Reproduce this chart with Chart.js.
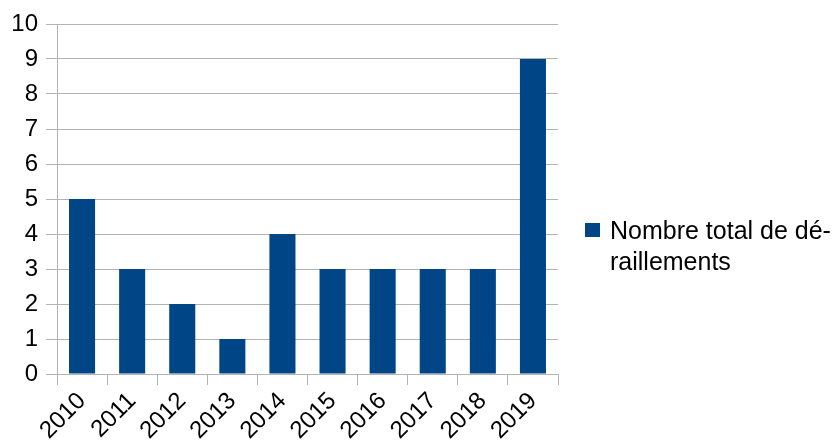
<!DOCTYPE html>
<html><head><meta charset="utf-8">
<script src="https://cdn.jsdelivr.net/npm/chart.js@4/dist/chart.umd.min.js"></script>
<style>html,body{margin:0;padding:0;background:#fff}#w{width:838px;height:448px}</style>
</head><body><div id="w"><canvas id="c"></canvas></div>
<script>
const categories = ['2010','2011','2012','2013','2014','2015','2016','2017','2018','2019'];
const seriesName = ['Nombre total de dé-', 'raillements'];
const values = [5, 3, 2, 1, 4, 3, 3, 3, 3, 9];
const yTicks = [0,1,2,3,4,5,6,7,8,9,10];

const FONT = 'Liberation Sans';
const GRID = '#b3b3b3';
const BAR = '#004586';

const legendPlugin = {
  id: 'customLegend',
  afterDraw(chart) {
    const ctx = chart.ctx;
    ctx.save();
    ctx.fillStyle = BAR;
    ctx.fillRect(585, 223, 15, 14);
    ctx.fillStyle = '#000';
    ctx.font = '25px "' + FONT + '"';
    ctx.textBaseline = 'alphabetic';
    ctx.textAlign = 'left';
    seriesName.forEach((t, i) => ctx.fillText(t, 610, 239 + i * 31));
    ctx.restore();
  }
};

new Chart(document.getElementById('c'), {
  type: 'bar',
  data: {
    labels: categories,
    datasets: [{ label: seriesName.join(''), data: values, backgroundColor: BAR, barPercentage: 0.52, categoryPercentage: 1 }]
  },
  options: {
    responsive: true, maintainAspectRatio: false, animation: false,
    layout: { padding: { top: 24, right: 280, left: 0, bottom: 0 } },
    plugins: { legend: { display: false }, tooltip: { enabled: false } },
    scales: {
      x: {
        offset: true,
        grid: { offset: true, drawOnChartArea: true, tickLength: 11, tickColor: GRID,
          color: (c) => (c.index === 0 || c.index === categories.length) ? GRID : 'rgba(0,0,0,0)' },
        border: { display: true, color: GRID },
        ticks: { color: '#000', font: { family: FONT, size: 24 }, minRotation: 45, maxRotation: 45, padding: 2, autoSkip: false },
        afterFit: (s) => { s.height = 74; }
      },
      y: {
        min: 0, max: 10,
        afterBuildTicks: (s) => { s.ticks = yTicks.map(v => ({ value: v })); },
        grid: { color: GRID, tickLength: 11, tickColor: GRID },
        border: { display: true, color: GRID },
        ticks: { color: '#000', font: { family: FONT, size: 24 }, padding: 8 },
        afterFit: (s) => { s.width = 57; }
      }
    }
  },
  plugins: [legendPlugin]
});
</script></body></html>
